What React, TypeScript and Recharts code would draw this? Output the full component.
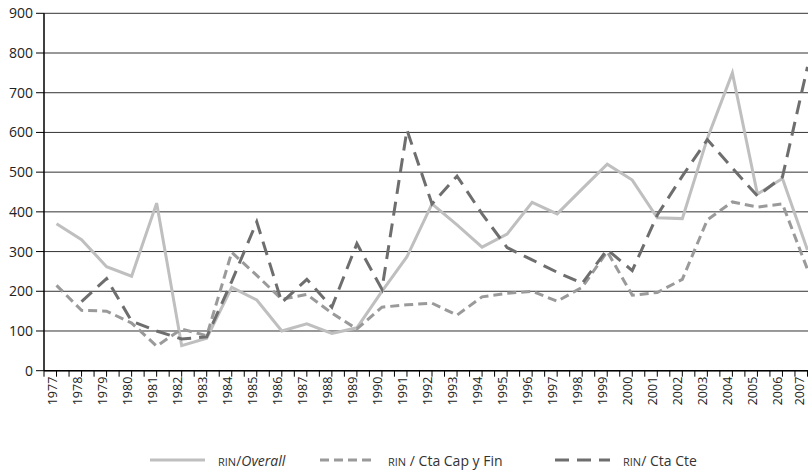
import React from 'react';
import { LineChart, Line, XAxis, YAxis, CartesianGrid } from 'recharts';

// años y series (RIN)
const years = [
  '1977', '1978', '1979', '1980', '1981', '1982', '1983', '1984', '1985', '1986',
  '1987', '1988', '1989', '1990', '1991', '1992', '1993', '1994', '1995', '1996',
  '1997', '1998', '1999', '2000', '2001', '2002', '2003', '2004', '2005', '2006', '2007',
];
const rinOverall = [
  370, 330, 262, 238, 422, 63, 82, 210, 178, 100,
  118, 94, 108, 200, 287, 420, 367, 311, 344, 424,
  395, 458, 520, 480, 385, 383, 585, 750, 445, 484, 304,
];
const rinCapFin = [
  215, 152, 150, 120, 62, 105, 88, 298, 240, 180,
  192, 145, 105, 160, 166, 170, 140, 186, 195, 200,
  175, 210, 300, 190, 197, 230, 380, 425, 412, 420, 255,
];
const rinCtaCte = [
  null, 174, 232, 125, 100, 80, 85, 225, 375, 172,
  230, 160, 320, 205, 606, 420, 490, 395, 310, 279,
  248, 220, 305, 252, 392, 490, 582, 510, 440, 488, 765,
];
const yTicks = [0, 100, 200, 300, 400, 500, 600, 700, 800, 900];

const data = years.map((year, i) => ({
  year,
  overall: rinOverall[i],
  capFin: rinCapFin[i],
  ctaCte: rinCtaCte[i],
}));

const VIEW_W = 808;
const CHART_W = 820;
const Y_AXIS_W = 44;
const halfBand = (CHART_W - Y_AXIS_W) / years.length / 2;
const FONT = '"Open Sans", "DejaVu Sans", sans-serif';

const YearTick = (props: any) => {
  const { x, y, payload } = props;
  // la última etiqueta queda pegada al borde, como en el original
  const tx = Math.min(x - 4.5, VIEW_W - 8);
  return (
    <g>
      <line x1={x} x2={x} y1={y} y2={y + 6} stroke="#000" strokeWidth={1} />
      <line x1={x - halfBand} x2={x - halfBand} y1={y} y2={y + 6} stroke="#000" strokeWidth={1} />
      <text
        x={tx}
        y={y + 6}
        transform={`rotate(-90, ${tx}, ${y + 6})`}
        textAnchor="end"
        dominantBaseline="central"
        fontSize={12.5}
        fontFamily={FONT}
        fill="#222"
      >
        {payload.value}
      </text>
    </g>
  );
};

const legendItems = [
  { left: 150, dash: undefined, color: '#bfbfbf', label: 'Overall', italic: true, sep: '/' },
  { left: 320, dash: '9 5', color: '#9a9a9a', label: 'Cta Cap y Fin', italic: false, sep: ' / ' },
  { left: 555, dash: '14 8', color: '#6e6e6e', label: 'Cta Cte', italic: false, sep: '/ ' },
];

const App: React.FC = () => {
  return (
    <div style={{ position: 'absolute', left: 0, top: 0, width: VIEW_W, height: 474, overflow: 'hidden', background: '#fff' }}>
      <LineChart
        width={CHART_W}
        height={474}
        data={data}
        margin={{ top: 13.3, right: 0, bottom: 63.3, left: 0 }}
      >
        <CartesianGrid vertical={false} stroke="#333" strokeWidth={1} />
        <XAxis
          dataKey="year"
          interval={0}
          height={40}
          padding={{ left: halfBand, right: halfBand }}
          axisLine={{ stroke: '#000', strokeWidth: 1.5 }}
          tickLine={false}
          tickSize={0}
          tickMargin={0}
          tick={YearTick}
        />
        <YAxis
          width={Y_AXIS_W}
          domain={[0, 900]}
          ticks={yTicks}
          interval={0}
          axisLine={{ stroke: '#000', strokeWidth: 1.5 }}
          tickLine={{ stroke: '#000' }}
          tickSize={8}
          tickMargin={3}
          tick={{ fill: '#222', fontSize: 14, fontFamily: FONT }}
        />
        <Line
          type="linear"
          dataKey="overall"
          stroke="#bfbfbf"
          strokeWidth={3}
          dot={false}
          activeDot={false}
          isAnimationActive={false}
        />
        <Line
          type="linear"
          dataKey="capFin"
          stroke="#9a9a9a"
          strokeWidth={3}
          strokeDasharray="9 5"
          dot={false}
          activeDot={false}
          isAnimationActive={false}
        />
        <Line
          type="linear"
          dataKey="ctaCte"
          stroke="#6e6e6e"
          strokeWidth={3}
          strokeDasharray="14 8"
          dot={false}
          activeDot={false}
          isAnimationActive={false}
        />
      </LineChart>
      {legendItems.map((item) => (
        <div
          key={item.label}
          style={{ position: 'absolute', left: item.left, top: 450, height: 20, display: 'flex', alignItems: 'center', fontFamily: FONT, fontSize: 14, color: '#333' }}
        >
          <svg width={56} height={20} style={{ marginRight: 12 }}>
            <line x1={0} x2={55} y1={10} y2={10} stroke={item.color} strokeWidth={3} strokeDasharray={item.dash} />
          </svg>
          <span style={{ whiteSpace: 'pre' }}>
            <span style={{ fontSize: 11 }}>RIN</span>
            {item.sep}
            <span style={{ fontStyle: item.italic ? 'italic' : 'normal' }}>{item.label}</span>
          </span>
        </div>
      ))}
    </div>
  );
};

export default App;
